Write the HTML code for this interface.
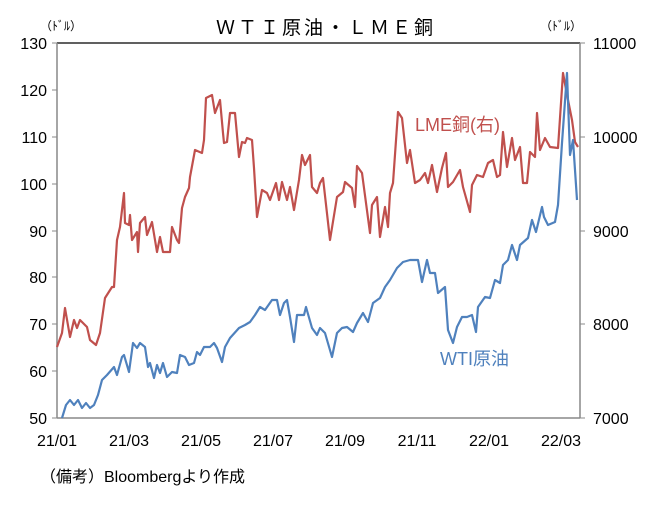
<!DOCTYPE html>
<html><head><meta charset="utf-8"><style>
body{margin:0;background:#fff;}
svg text{font-family:"Liberation Sans","Noto Sans CJK JP",sans-serif;}
</style></head><body>
<svg width="652" height="504" viewBox="0 0 652 504" xmlns="http://www.w3.org/2000/svg">
<rect width="652" height="504" fill="#fff"/>
<text x="326" y="34" font-size="19" text-anchor="middle" letter-spacing="3">ＷＴＩ原油・ＬＭＥ銅</text>
<text x="40" y="30" font-size="12">（ﾄﾞﾙ）</text>
<text x="540" y="30" font-size="12">（ﾄﾞﾙ）</text>
<line x1="57" y1="43" x2="580" y2="43" stroke="#000" stroke-width="1.2"/>
<line x1="57" y1="43" x2="57" y2="418" stroke="#888" stroke-width="1.5"/>
<line x1="580" y1="43" x2="580" y2="418" stroke="#888" stroke-width="1.5"/>
<line x1="57" y1="418" x2="580" y2="418" stroke="#888" stroke-width="1.5"/>
<g stroke="#888" stroke-width="1">
<line x1="52" y1="43" x2="57" y2="43"/><line x1="52" y1="90" x2="57" y2="90"/><line x1="52" y1="137" x2="57" y2="137"/><line x1="52" y1="184" x2="57" y2="184"/><line x1="52" y1="231" x2="57" y2="231"/><line x1="52" y1="277" x2="57" y2="277"/><line x1="52" y1="324" x2="57" y2="324"/><line x1="52" y1="371" x2="57" y2="371"/><line x1="52" y1="418" x2="57" y2="418"/>
<line x1="580" y1="43" x2="585" y2="43"/><line x1="580" y1="137" x2="585" y2="137"/><line x1="580" y1="231" x2="585" y2="231"/><line x1="580" y1="324" x2="585" y2="324"/><line x1="580" y1="418" x2="585" y2="418"/>
</g>
<g font-size="16" text-anchor="end">
<text x="47" y="49">130</text><text x="47" y="96">120</text><text x="47" y="143">110</text><text x="47" y="190">100</text><text x="47" y="237">90</text><text x="47" y="283">80</text><text x="47" y="330">70</text><text x="47" y="377">60</text><text x="47" y="424">50</text>
</g>
<g font-size="16">
<text x="593" y="49">11000</text><text x="593" y="143">10000</text><text x="593" y="237">9000</text><text x="593" y="330">8000</text><text x="593" y="424">7000</text>
</g>
<g font-size="16" text-anchor="middle">
<text x="57" y="446">21/01</text><text x="129" y="446">21/03</text><text x="201" y="446">21/05</text><text x="273" y="446">21/07</text><text x="345" y="446">21/09</text><text x="417" y="446">21/11</text><text x="489" y="446">22/01</text><text x="561" y="446">22/03</text>
</g>
<text x="40" y="482" font-size="16">（備考）Bloombergより作成</text>
<polyline fill="none" stroke="#C0504D" stroke-width="2.2" stroke-linejoin="round" points="57,347 62,333 65,308 70,337 74,320 77,328 80,320 87,327 90,340 96,345 100,333 105,298 112,287 114,287 117,240 120,227 124,193 125,223 129,225 130,215 132,240 137,232 138,252 140,223 145,217 147,235 152,222 157,252 160,237 163,252 170,252 172,227 177,240 179,243 182,208 185,197 189,188 190,177 195,150 202,153 204,140 206,98 212,95 215,113 220,100 223,133 224,143 227,142 230,113 235,113 239,157 242,142 245,143 247,138 252,140 254,168 257,217 262,190 267,193 270,200 276,183 279,200 282,182 287,200 290,187 294,210 299,180 302,155 305,165 310,155 312,187 317,193 320,183 323,178 330,240 337,197 343,192 345,182 352,188 355,207 357,166 362,173 370,233 372,205 377,197 380,237 385,207 388,227 390,193 393,183 398,112 402,118 407,163 410,150 415,183 420,180 425,173 428,183 432,165 437,192 442,168 446,153 448,187 453,182 460,170 463,187 470,212 472,185 477,175 483,177 488,163 493,160 497,177 500,175 503,132 507,167 512,138 515,160 520,147 523,183 527,183 530,152 535,157 537,113 540,150 545,138 550,147 558,148 563,73 568,100 572,120 575,142 578,147"/>
<polyline fill="none" stroke="#4F81BD" stroke-width="2.2" stroke-linejoin="round" points="62,418 66,405 70,400 74,405 78,400 82,408 86,403 90,408 94,405 98,395 102,380 107,375 114,367 117,375 122,357 124,355 129,372 133,343 137,348 140,343 145,347 148,367 150,363 154,378 157,365 160,373 163,363 167,377 172,372 177,373 180,355 185,357 189,365 194,363 197,352 200,355 204,347 210,347 214,343 217,348 222,362 225,347 230,338 239,328 245,325 250,322 255,315 260,307 265,310 272,300 277,300 280,315 284,303 287,300 290,317 294,342 297,315 304,315 306,307 312,328 317,335 320,328 325,333 332,357 337,333 342,328 347,327 353,332 357,323 363,313 368,322 373,303 380,298 385,287 390,280 397,268 403,262 410,260 418,260 422,282 427,260 430,273 435,273 438,293 445,287 448,330 453,343 457,327 462,317 467,317 472,315 476,332 478,307 485,297 490,298 495,280 500,283 503,265 508,260 512,245 517,260 520,245 528,238 532,220 536,232 542,207 544,217 548,225 555,222 558,205 562,143 567,73 570,155 573,140 577,200"/>
<text x="415" y="131" font-size="18" fill="#C0504D">LME銅(右)</text>
<text x="440" y="365" font-size="18" fill="#4F81BD">WTI原油</text>
</svg>
</body></html>
